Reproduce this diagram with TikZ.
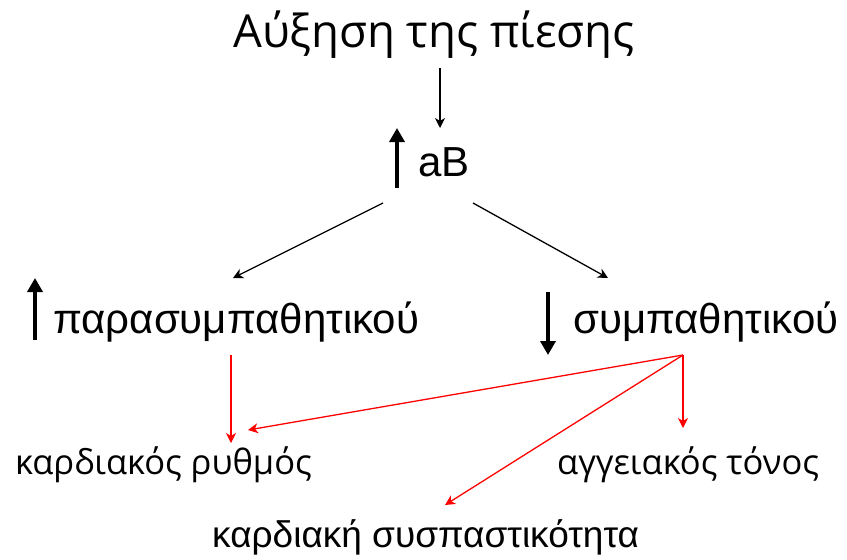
\documentclass[tikz,border=0pt]{standalone}
\usepackage{fontspec}
\setmainfont{Liberation Sans}
\newfontfamily\lowfont{Open Sans}
\usetikzlibrary{arrows.meta}
\tikzset{
  lbl/.style={inner sep=0pt, anchor=base west},
  big/.style={lbl, font=\lowfont\fontsize{45.5}{47}\selectfont},
  mid/.style={lbl, font=\fontsize{42}{44}\selectfont},
  low/.style={lbl, font=\lowfont\fontsize{34.5}{36}\selectfont},
  lowarial/.style={lbl, font=\fontsize{37}{39}\selectfont},
  thin/.style={line width=1.3pt, -{Stealth[length=10pt,width=10pt,inset=3pt]}},
  redarr/.style={thin, red},
  thick/.style={line width=4.5pt, -{Triangle[length=14pt,width=15pt]}},
}
\begin{document}
\begin{tikzpicture}[x=1pt,y=-1pt]
\useasboundingbox (0,0) rectangle (847,560);
\node[big] (title) at (233,47) {Αύξηση της πίεσης};
\node[mid] (ab) at (418,176) {aB};
\node[mid] (para) at (53,333) {παρασυμπαθητικού};
\node[mid] (symp) at (573,333) {συμπαθητικού};
\node[low] (rythm) at (15,474) {καρδιακός ρυθμός};
\node[low] (tonos) at (557,474) {αγγειακός τόνος};
\node[lowarial] (sysp) at (212,547) {καρδιακή συσπαστικότητα};
\coordinate (t1) at (440,68);
\coordinate (t2) at (440,128);
\coordinate (abL) at (383,203);
\coordinate (abR) at (473,203);
\coordinate (paraIn) at (233,278);
\coordinate (sympIn) at (608,278);
\coordinate (paraOut) at (231,355);
\coordinate (sympOut) at (683,355);
\coordinate (rythmA) at (231,443);
\coordinate (rythmB) at (248,430);
\coordinate (tonosIn) at (683,428);
\coordinate (syspIn) at (445,505);
\coordinate (u1a) at (397,188);
\coordinate (u1b) at (397,128);
\coordinate (u2a) at (35,340);
\coordinate (u2b) at (35,278);
\coordinate (d1a) at (548,292);
\coordinate (d1b) at (548,355);
\draw[thin] (t1) -- (t2);
\draw[thin] (abL) -- (paraIn);
\draw[thin] (abR) -- (sympIn);
\draw[thick] (u1a) -- (u1b);
\draw[thick] (u2a) -- (u2b);
\draw[thick] (d1a) -- (d1b);
\draw[redarr] (paraOut) -- (rythmA);
\draw[redarr] (sympOut) -- (rythmB);
\draw[redarr] (sympOut) -- (tonosIn);
\draw[redarr] (sympOut) -- (syspIn);
\end{tikzpicture}
\end{document}
